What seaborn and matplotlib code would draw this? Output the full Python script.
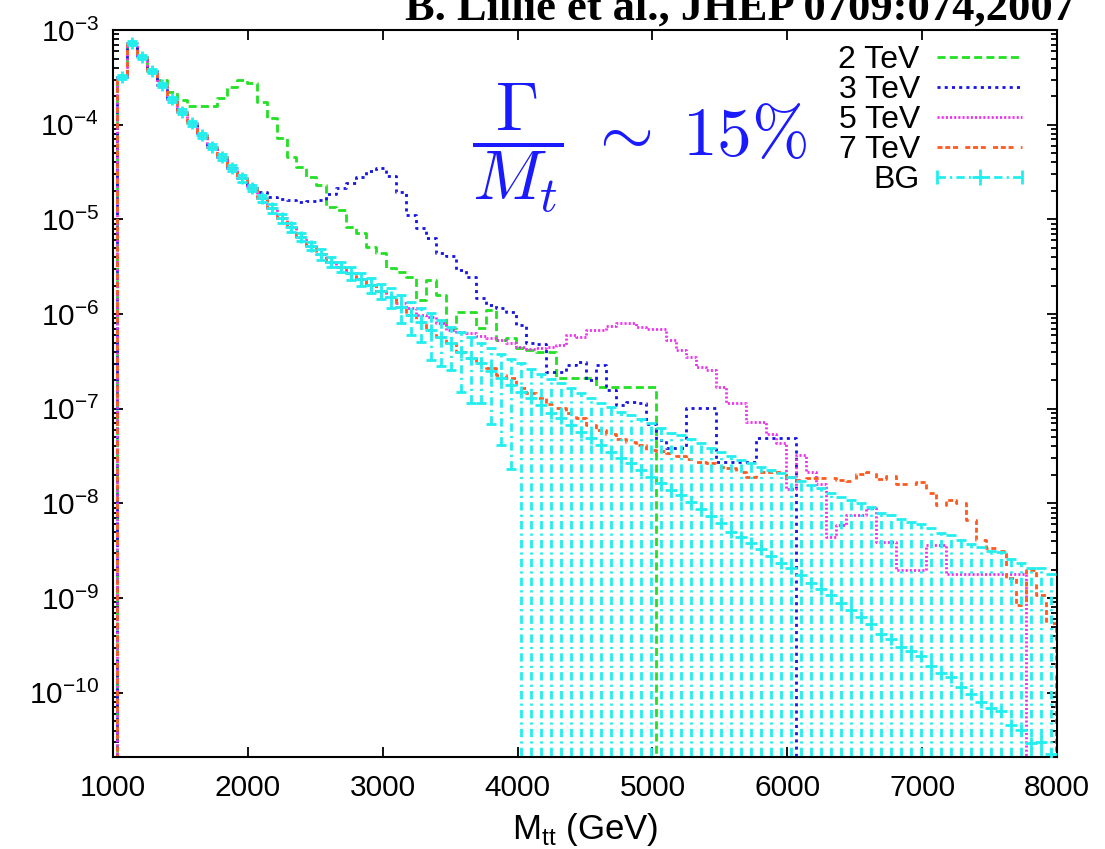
import numpy as np
import pandas as pd
import matplotlib
matplotlib.use("Agg")
import matplotlib.pyplot as plt
import seaborn as sns
from matplotlib.lines import Line2D
from matplotlib.legend_handler import HandlerLine2D
from matplotlib.ticker import FixedLocator, LogLocator, NullFormatter, NullLocator

# ---------------------------------------------------------------------------
# Histogram binning of the t-tbar invariant mass (GeV)
# ---------------------------------------------------------------------------
FIRST_BIN_CENTER = 1064.4
BIN_WIDTH = 74.07

X_TICKS = [1000, 2000, 3000, 4000, 5000, 6000, 7000, 8000]
Y_RANGE = (2.1e-11, 1e-3)

# Standard-model background: bin contents and statistical errors
BG = [
    3.17e-4, 7.24e-4, 5.22e-4, 3.72e-4, 2.63e-4, 1.85e-4, 1.37e-4, 1.03e-4, 7.78e-5, 5.86e-5,
    4.53e-5, 3.51e-5, 2.72e-5, 2.13e-5, 1.67e-5, 1.31e-5, 1.03e-5, 8.25e-6, 6.57e-6, 5.24e-6,
    4.31e-6, 3.57e-6, 3.16e-6, 2.74e-6, 2.36e-6, 2.04e-6, 1.77e-6, 1.53e-6, 1.20e-6, 9.78e-7,
    8.31e-7, 6.79e-7, 5.73e-7, 4.95e-7, 4.01e-7, 3.44e-7, 3.07e-7, 2.52e-7, 2.10e-7, 1.78e-7,
    1.52e-7, 1.29e-7, 1.10e-7, 8.97e-8, 7.94e-8, 6.75e-8, 5.73e-8, 4.88e-8, 4.15e-8, 3.52e-8,
    3.00e-8, 2.68e-8, 2.26e-8, 1.92e-8, 1.65e-8, 1.39e-8, 1.23e-8, 1.04e-8, 8.75e-9, 7.38e-9,
    6.27e-9, 5.04e-9, 4.46e-9, 3.85e-9, 3.28e-9, 2.79e-9, 2.37e-9, 2.07e-9, 1.76e-9, 1.44e-9,
    1.24e-9, 1.08e-9, 8.83e-10, 7.50e-10, 6.38e-10, 5.34e-10, 4.19e-10, 3.68e-10, 3.03e-10, 2.79e-10,
    2.45e-10, 1.92e-10, 1.61e-10, 1.46e-10, 1.16e-10, 9.73e-11, 8.07e-11, 6.88e-11, 6.49e-11, 4.58e-11,
    4.06e-11, 2.98e-11, 3.05e-11, 2.26e-11,
]
BG_ERR = [
    1.6e-5, 3.6e-5, 2.6e-5, 1.9e-5, 1.3e-5, 1.2e-5, 8.6e-6, 6.5e-6, 4.9e-6, 3.7e-6,
    3.4e-6, 2.7e-6, 2.1e-6, 1.6e-6, 1.3e-6, 1.3e-6, 1.05e-6, 8.4e-7, 6.7e-7, 5.3e-7,
    5.6e-7, 4.6e-7, 4.1e-7, 4.3e-7, 3.7e-7, 3.8e-7, 3.3e-7, 3.6e-7, 3.9e-7, 3.7e-7,
    3.3e-7, 3.5e-7, 2.93e-7, 2.41e-7, 2.51e-7, 2.29e-7, 1.92e-7, 1.83e-7, 1.69e-7, 1.55e-7,
    1.55e-7, 1.32e-7, 1.23e-7, 1.15e-7, 1.07e-7, 9.7e-8, 8.9e-8, 8.0e-8, 7.3e-8, 6.9e-8,
    6.32e-8, 5.92e-8, 5.49e-8, 5.21e-8, 4.57e-8, 4.20e-8, 4.02e-8, 3.72e-8, 3.45e-8, 3.12e-8,
    2.87e-8, 2.67e-8, 2.43e-8, 2.28e-8, 2.12e-8, 1.98e-8, 1.84e-8, 1.68e-8, 1.56e-8, 1.43e-8,
    1.33e-8, 1.19e-8, 1.09e-8, 1.02e-8, 9.4e-9, 8.59e-9, 7.58e-9, 7.19e-9, 6.51e-9, 6.14e-9,
    5.83e-9, 5.28e-9, 4.76e-9, 4.50e-9, 4.00e-9, 3.63e-9, 3.42e-9, 3.10e-9, 3.04e-9, 2.53e-9,
    2.33e-9, 2.04e-9, 2.04e-9, 1.78e-9,
]

# KK-gluon resonances (Gamma/M ~ 15%), same binning
KK_2TEV = [
    3.17e-4, 7.24e-4, 5.22e-4, 3.72e-4, 2.96e-4, 2.21e-4, 1.82e-4, 1.58e-4, 1.58e-4, 1.58e-4,
    1.91e-4, 2.50e-4, 2.96e-4, 2.76e-4, 1.74e-4, 1.18e-4, 7.24e-5, 4.56e-5, 3.58e-5, 2.80e-5,
    2.31e-5, 1.35e-5, 1.26e-5, 8.31e-6, 7.18e-6, 5.11e-6, 4.42e-6, 3.07e-6, 2.78e-6, 2.46e-6,
    1.41e-6, 2.29e-6, 1.59e-6, 7.13e-7, 1.05e-6, 1.05e-6, 7.13e-7, 1.10e-6, 5.33e-7, 5.59e-7,
    4.39e-7, 4.18e-7, 3.98e-7, 3.98e-7, 2.11e-7, 2.11e-7, 2.11e-7, 2.11e-7, 1.70e-7, 1.70e-7,
    1.70e-7, 1.70e-7, 1.70e-7, 1.70e-7, 0, 0, 0, 0, 0, 0,
    0, 0, 0, 0, 0, 0, 0, 0, 0, 0,
    0, 0, 0, 0, 0, 0, 0, 0, 0, 0,
    0, 0, 0, 0, 0, 0, 0, 0, 0, 0,
    0, 0, 0, 0,
]
KK_3TEV = [
    3.17e-4, 7.24e-4, 5.22e-4, 3.72e-4, 2.63e-4, 1.85e-4, 1.37e-4, 1.03e-4, 7.78e-5, 5.86e-5,
    4.53e-5, 3.51e-5, 2.72e-5, 2.31e-5, 1.95e-5, 1.72e-5, 1.64e-5, 1.60e-5, 1.53e-5, 1.56e-5,
    1.60e-5, 1.85e-5, 2.15e-5, 2.42e-5, 2.80e-5, 3.24e-5, 3.49e-5, 2.87e-5, 1.95e-5, 1.11e-5,
    8.11e-6, 6.36e-6, 4.42e-6, 4.11e-6, 2.92e-6, 2.46e-6, 1.48e-6, 1.25e-6, 1.16e-6, 1.05e-6,
    7.67e-7, 4.95e-7, 4.83e-7, 2.45e-7, 2.45e-7, 2.90e-7, 3.12e-7, 2.01e-7, 2.90e-7, 1.58e-7,
    1.10e-7, 1.18e-7, 1.15e-7, 6.91e-8, 4.68e-8, 3.86e-8, 3.86e-8, 1.02e-7, 1.02e-7, 1.02e-7,
    2.74e-8, 2.74e-8, 2.74e-8, 2.74e-8, 4.91e-8, 4.91e-8, 4.91e-8, 4.91e-8, 0, 0,
    0, 0, 0, 0, 0, 0, 0, 0, 0, 0,
    0, 0, 0, 0, 0, 0, 0, 0, 0, 0,
    0, 0, 0, 0,
]
KK_5TEV = [
    3.17e-4, 7.24e-4, 5.22e-4, 3.72e-4, 2.63e-4, 1.85e-4, 1.37e-4, 1.03e-4, 7.78e-5, 5.86e-5,
    4.53e-5, 3.51e-5, 2.72e-5, 2.13e-5, 1.67e-5, 1.31e-5, 1.03e-5, 8.25e-6, 6.57e-6, 5.24e-6,
    4.31e-6, 3.57e-6, 3.16e-6, 2.74e-6, 2.36e-6, 2.04e-6, 1.77e-6, 1.52e-6, 1.31e-6, 1.16e-6,
    9.78e-7, 9.32e-7, 8.05e-7, 6.79e-7, 6.47e-7, 6.31e-7, 5.87e-7, 5.59e-7, 5.33e-7, 4.95e-7,
    4.49e-7, 4.28e-7, 4.39e-7, 4.49e-7, 4.72e-7, 6.02e-7, 5.73e-7, 6.79e-7, 6.79e-7, 7.49e-7,
    8.05e-7, 8.05e-7, 7.31e-7, 6.96e-7, 6.96e-7, 5.33e-7, 4.18e-7, 3.52e-7, 2.76e-7, 2.57e-7,
    1.70e-7, 1.15e-7, 1.15e-7, 7.25e-8, 7.25e-8, 5.42e-8, 4.35e-8, 1.42e-8, 3.25e-8, 2.15e-8,
    1.61e-8, 4.43e-9, 5.93e-9, 7.56e-9, 7.56e-9, 8.96e-9, 3.92e-9, 3.92e-9, 1.98e-9, 1.98e-9,
    1.98e-9, 3.65e-9, 3.65e-9, 1.80e-9, 1.80e-9, 1.80e-9, 1.80e-9, 1.80e-9, 1.80e-9, 1.80e-9,
    1.80e-9, 0, 0, 0,
]
KK_7TEV = [
    3.17e-4, 7.24e-4, 5.22e-4, 3.72e-4, 2.63e-4, 1.85e-4, 1.37e-4, 1.03e-4, 7.78e-5, 5.86e-5,
    4.53e-5, 3.51e-5, 2.72e-5, 2.13e-5, 1.67e-5, 1.31e-5, 1.03e-5, 8.25e-6, 6.57e-6, 5.24e-6,
    4.31e-6, 3.57e-6, 3.16e-6, 2.74e-6, 2.36e-6, 2.04e-6, 1.77e-6, 1.53e-6, 1.20e-6, 9.78e-7,
    8.31e-7, 6.79e-7, 5.73e-7, 4.95e-7, 4.01e-7, 3.44e-7, 3.07e-7, 2.70e-7, 2.28e-7, 2.11e-7,
    1.66e-7, 1.47e-7, 1.30e-7, 1.12e-7, 1.02e-7, 9.03e-8, 7.99e-8, 6.75e-8, 5.97e-8, 5.42e-8,
    4.80e-8, 4.46e-8, 4.15e-8, 3.67e-8, 3.58e-8, 3.41e-8, 3.17e-8, 2.95e-8, 2.74e-8, 2.68e-8,
    2.43e-8, 2.37e-8, 2.15e-8, 1.90e-8, 2.15e-8, 2.15e-8, 2.15e-8, 1.90e-8, 1.77e-8, 1.86e-8,
    1.86e-8, 1.86e-8, 1.77e-8, 1.73e-8, 2.05e-8, 2.15e-8, 1.81e-8, 1.95e-8, 1.61e-8, 1.61e-8,
    1.69e-8, 1.29e-8, 9.64e-9, 1.09e-8, 1.01e-8, 6.70e-9, 4.12e-9, 3.39e-9, 3.15e-9, 1.63e-9,
    8.48e-10, 1.98e-9, 1.08e-9, 5.47e-10,
]

SERIES_LABELS = ["2 TeV", "3 TeV", "5 TeV", "7 TeV"]
BG_LABEL = "BG"

# ---------------------------------------------------------------------------
# Styling
# ---------------------------------------------------------------------------
sns.set_theme(style="ticks")
plt.rcParams.update({
    "font.family": ["Liberation Sans", "DejaVu Sans"],
    "axes.linewidth": 1.5,
    "axes.edgecolor": "black",
    "xtick.color": "black",
    "ytick.color": "black",
    "text.color": "black",
    "axes.labelcolor": "black",
})

GREEN = "#22e022"
BLUE = "#1515e6"
MAGENTA = "#f030f0"
ORANGE = "#ff5a1e"
CYAN = "#22eeee"

styles = [
    (GREEN, (2.9, 1.5)),
    (BLUE, (1.1, 1.5)),
    (MAGENTA, (0.75, 0.75)),
    (ORANGE, (1.8, 1.0, 1.8, 1.0, 1.8, 2.6)),
]

fig = plt.figure(figsize=(11.05, 8.49), dpi=100)
ax = fig.add_axes([113 / 1105, 1 - 757 / 849, 944 / 1105, 727 / 849])

centers = FIRST_BIN_CENTER + BIN_WIDTH * np.arange(len(BG))
# empty bins on either side so the histograms rise from / fall to zero
x_steps = np.concatenate([[centers[0] - BIN_WIDTH], centers, [centers[-1] + BIN_WIDTH]])

signal_lines = []
for values, label, (color, dashes) in zip([KK_2TEV, KK_3TEV, KK_5TEV, KK_7TEV],
                                           SERIES_LABELS, styles):
    y_steps = np.concatenate([[0.0], values, [0.0]])
    df = pd.DataFrame({"mtt": x_steps, "dsigma": y_steps})
    sns.lineplot(data=df, x="mtt", y="dsigma", ax=ax, color=color, linewidth=2,
                 drawstyle="steps-mid", estimator=None, errorbar=None, sort=False)
    line = ax.lines[-1]
    line.set_dashes(dashes)
    line.set_dash_capstyle("butt")
    signal_lines.append(line)

# background with statistical error bars
eb = ax.errorbar(centers, BG, yerr=BG_ERR, fmt="+", color=CYAN, ms=9, mew=2,
                 elinewidth=2, capsize=3.5, capthick=2, zorder=5)
eb[2][0].set_linestyle((0, (3.0, 1.5, 0.8, 1.5)))

ax.set_yscale("log", nonpositive="clip")
ax.set_xlim(X_TICKS[0], X_TICKS[-1])
ax.set_ylim(*Y_RANGE)

ax.xaxis.set_major_locator(FixedLocator(X_TICKS))
ax.xaxis.set_minor_locator(NullLocator())
ax.yaxis.set_major_locator(LogLocator(base=10, numticks=20))
ax.yaxis.set_minor_locator(LogLocator(base=10, subs=np.arange(2, 10), numticks=20))
ax.yaxis.set_minor_formatter(NullFormatter())

ax.tick_params(which="both", direction="in", top=True, right=True, width=1.3)
ax.tick_params(which="major", length=7, labelsize=21.5)
ax.tick_params(axis="x", which="major", pad=12)
ax.tick_params(axis="y", which="major", pad=10)
ax.tick_params(which="minor", length=4)

ax.set_xlabel(r"M$_{\mathregular{tt}}$ (GeV)", fontsize=25, labelpad=7)
ax.set_ylabel("")

# legend: text on the left, samples on the right
bg_line = Line2D([], [], color=CYAN, linewidth=2, linestyle=(0, (3.0, 1.5, 0.8, 1.5)),
                 marker="|", markersize=10, mew=2)
bg_plus = Line2D([], [], color=CYAN, linestyle="none", marker="+", markersize=11, mew=2)
handles = signal_lines + [(bg_line, bg_plus)]
ax.legend(handles, SERIES_LABELS + [BG_LABEL], loc="upper right",
          bbox_to_anchor=((1022 - 113) / 944, 1 - (45 - 30) / 727),
          markerfirst=False, frameon=False, fontsize=23, handlelength=2.65,
          handletextpad=0.55, labelspacing=0.0, borderpad=0, borderaxespad=0,
          handler_map={bg_line: HandlerLine2D(numpoints=2, marker_pad=0),
                       bg_plus: HandlerLine2D(numpoints=1)})

# width annotation
fig.text(640 / 1105, 1 - 148 / 849, r"$\dfrac{\Gamma}{M_t}\;\sim\;15\%$",
         ha="center", va="center", fontsize=50, color="#1a1aff", math_fontfamily="cm")

# reference line at the top edge
fig.text(405 / 1105, 1 - 20 / 849, "B. Lillie et al., JHEP 0709:074,2007",
         ha="left", va="baseline", fontsize=32, fontweight="bold",
         family=["Liberation Serif", "DejaVu Serif"])

fig.savefig("out.png", dpi=100)
